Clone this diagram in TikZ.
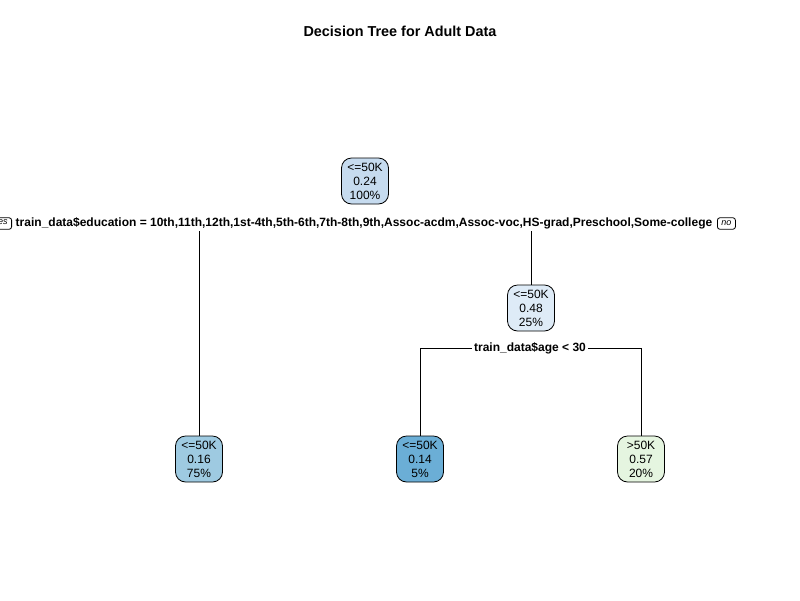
\documentclass[tikz,border=0pt]{standalone}
\usepackage{fontspec}
\setmainfont{Liberation Sans}
\definecolor{croot}{HTML}{C6DBEF}
\definecolor{cn2}{HTML}{DEEBF7}
\definecolor{cl1}{HTML}{9ECAE1}
\definecolor{cl2}{HTML}{6BAED6}
\definecolor{cl3}{HTML}{E5F5E0}
\tikzset{
  treenode/.style={draw, line width=0.8pt, rounded corners=10pt, minimum width=47pt, minimum height=46pt,
    align=center, inner sep=1pt, font=\fontsize{12}{14}\selectfont},
  splitlabel/.style={fill=white, inner sep=2pt, font=\fontsize{12}{14}\selectfont\bfseries},
  dirbox/.style={draw, line width=0.8pt, rounded corners=2.5pt, inner xsep=4pt, inner ysep=0pt,
    minimum height=11.5pt, font=\fontsize{9}{10}\selectfont\itshape},
  edge/.style={line width=0.8pt}
}
\begin{document}
\begin{tikzpicture}[x=1pt,y=-1pt]
\useasboundingbox (0,0) rectangle (800,600);
\clip (0,0) rectangle (800,600);
\node[font=\fontsize{14.4}{16}\selectfont\bfseries] (title) at (400,31) {Decision Tree for Adult Data};
\node[treenode, fill=croot] (root) at (365,181) {<=50K\\0.24\\100\%};
\node[splitlabel] (s1) at (364,223) {train\_data\$education = 10th,11th,12th,1st-4th,5th-6th,7th-8th,9th,Assoc-acdm,Assoc-voc,HS-grad,Preschool,Some-college};
\node[dirbox, anchor=east] (yes) at (12,223.5) {yes};
\node[dirbox, anchor=west] (no) at (717,223.5) {no};
\node[treenode, fill=cn2] (n2) at (531,308) {<=50K\\0.48\\25\%};
\node[splitlabel] (s2) at (530,348) {train\_data\$age < 30};
\node[treenode, fill=cl1] (l1) at (199,459) {<=50K\\0.16\\75\%};
\node[treenode, fill=cl2] (l2) at (420,459) {<=50K\\0.14\\5\%};
\node[treenode, fill=cl3] (l3) at (641,459) {>50K\\0.57\\20\%};
\draw[edge] (l1.north) -- (l1.north |- s1.south);
\draw[edge] (n2.north) -- (n2.north |- s1.south);
\draw[edge] (l2.north) |- (s2.west);
\draw[edge] (l3.north) |- (s2.east);
\end{tikzpicture}
\end{document}
